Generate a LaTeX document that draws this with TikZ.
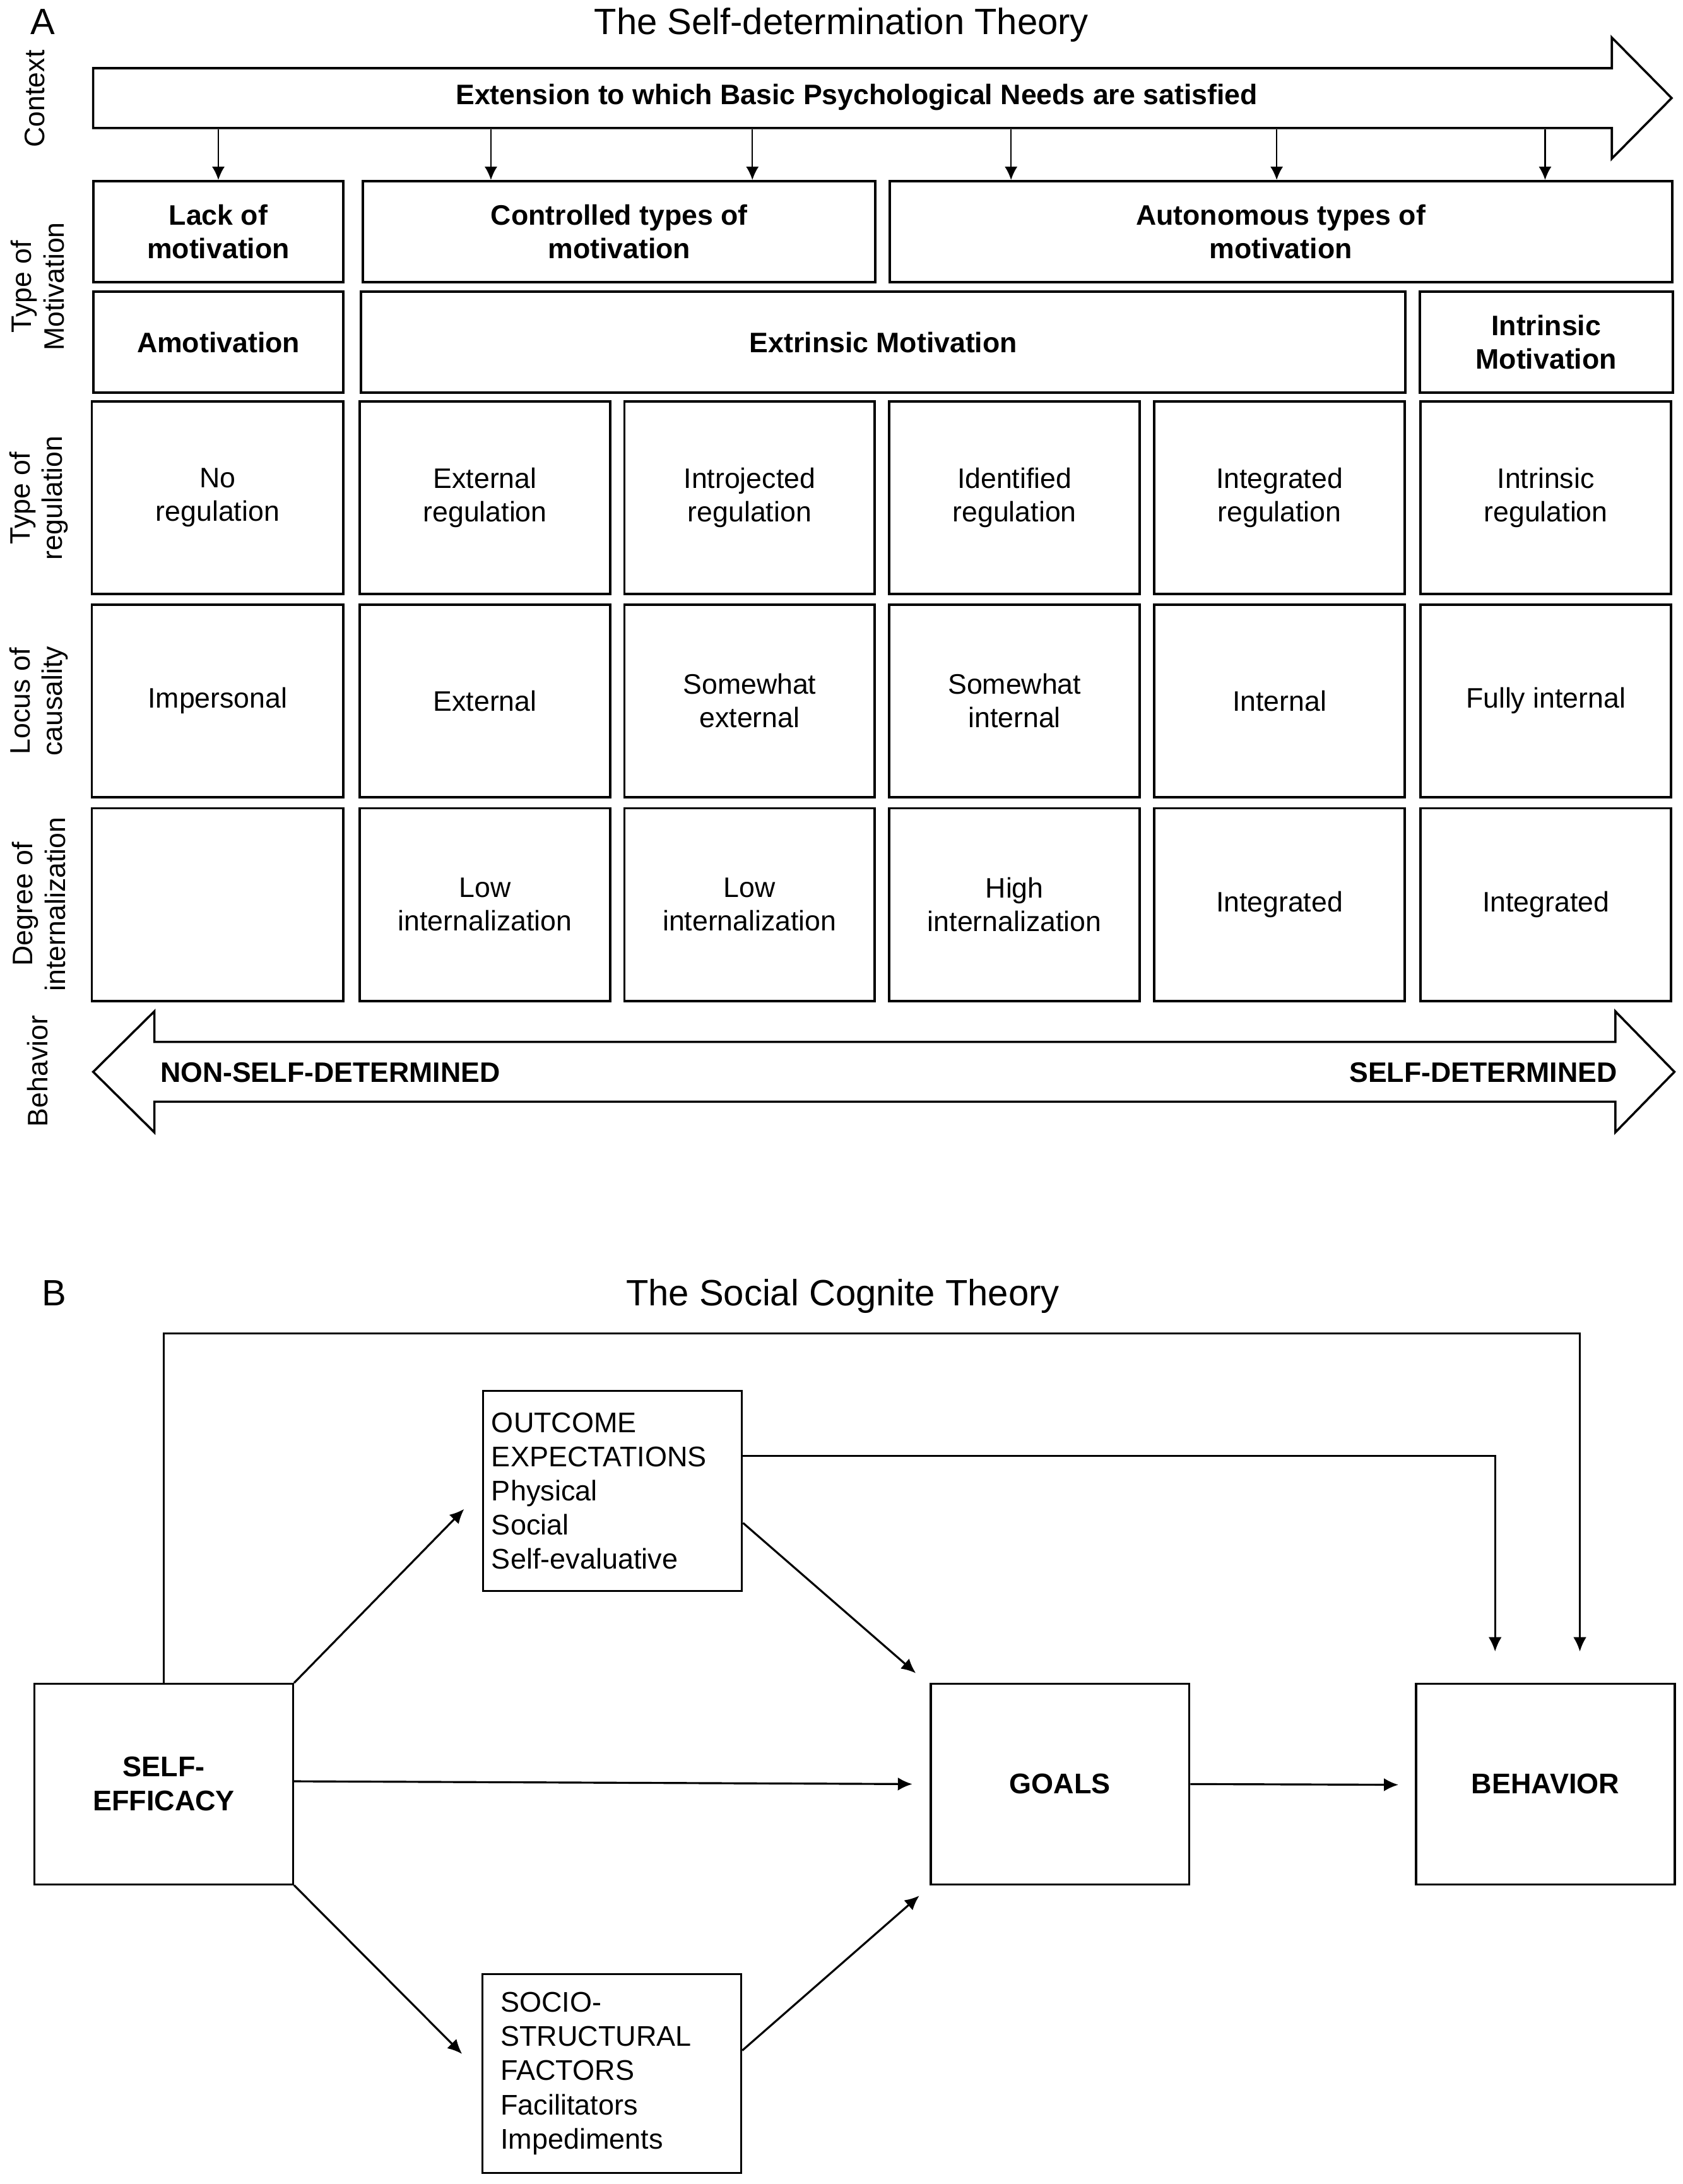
\documentclass[tikz,border=0pt]{standalone}
\usepackage{fontspec}
\setmainfont{Liberation Sans}
\usetikzlibrary{calc,arrows.meta}
\def\px{0.02204cm}
\tikzset{
  cell/.style={draw, line width=1.1pt, minimum width=180*\px, minimum height=138.5*\px, inner sep=0pt, align=center, font=\fontsize{12.7}{15}\selectfont},
  headcell/.style={cell, minimum height=72.5*\px, font=\fontsize{12.7}{15}\selectfont\bfseries},
  rowlabel/.style={rotate=90, align=center, inner sep=0pt, font=\fontsize{12.7}{14.6}\selectfont},
  bigarrow/.style={draw, line width=1pt, line join=miter},
  drop/.style={line width=0.6pt, -{Latex[length=2.1mm,width=2mm]}},
  blk/.style={draw, line width=0.9pt, minimum width=186*\px, minimum height=144*\px, inner sep=0pt, align=center, font=\fontsize{12.8}{15.4}\selectfont\bfseries},
  listblk/.style={blk, align=left, font=\fontsize{12.8}{15.4}\selectfont},
  link/.style={line width=0.9pt, -{Latex[length=2.3mm,width=2.1mm]}},
  heading/.style={anchor=base, inner sep=0pt, font=\fontsize{16.5}{19}\selectfont}
}

\begin{document}
\begin{tikzpicture}[x=0.02204cm, y=-0.02204cm]
		%%%%% START %%%%%
		\useasboundingbox (0, 0) rectangle (1210, 1570);
		
		\node[heading] (labA) at (31, 24.5) {A};
		\node[heading] (titleA) at (605, 24.5) {The Self-determination Theory};
		
		% context arrow
		\draw[bigarrow] (67, 49) -- (1159, 49) -- (1159, 27) -- (1202, 70.5) -- (1159, 114) -- (1159, 92) -- (67, 92) -- cycle;
		\node[font=\fontsize{12.7}{15}\selectfont\bfseries] (ctx) at (616, 70) {Extension to which Basic Psychological Needs are satisfied};
		
		% row labels
		\node[rowlabel] (lcontext) at (25, 71) {Context};
		\node[rowlabel] (ltype) at (27, 206) {Type of\\Motivation};
		\node[rowlabel] (lreg) at (28, 358) {Type of\\regulation};
		\node[rowlabel] (llocus) at (28, 504) {Locus of\\causality};
		\node[rowlabel] (ldegree) at (28, 650) {Degree of\\internalization};
		\node[rowlabel] (lbeh) at (27, 770) {Behavior};
		
		% type of motivation
		\node[headcell, minimum width=180*\px] (lack) at (157, 166.5) {Lack of\\motivation};
		\node[headcell, minimum width=368.5*\px] (ctrl) at (445.3, 166.5) {Controlled types of\\motivation};
		\node[headcell, minimum width=562.5*\px] (auto) at (921, 166.5) {Autonomous types of\\motivation};
		
		\node[headcell, minimum width=180*\px] (amot) at (157, 246) {Amotivation};
		\node[headcell, minimum width=751*\px] (extr) at (635.2, 246) {Extrinsic Motivation};
		\node[headcell, minimum width=182*\px] (intr) at (1111.8, 246) {Intrinsic\\Motivation};
		
		\coordinate (d1) at (157, 93);
		\coordinate (d2) at (353, 93);
		\coordinate (d3) at (541, 93);
		\coordinate (d4) at (727, 93);
		\coordinate (d5) at (918, 93);
		\coordinate (d6) at (1111, 93);
		\draw[drop] (d1) -- (d1 |- lack.north);
		\draw[drop] (d2) -- (d2 |- ctrl.north);
		\draw[drop] (d3) -- (d3 |- ctrl.north);
		\draw[drop] (d4) -- (d4 |- auto.north);
		\draw[drop] (d5) -- (d5 |- auto.north);
		\draw[drop] (d6) -- (d6 |- auto.north);
		
		% type of regulation
		\node[cell, minimum width=181*\px] (reg1) at (156.5, 357.75) {No\\regulation};
		\node[cell] (reg2) at (348.75, 357.75) {External\\regulation};
		\node[cell] (reg3) at (539, 357.75) {Introjected\\regulation};
		\node[cell] (reg4) at (729.5, 357.75) {Identified\\regulation};
		\node[cell] (reg5) at (920, 357.75) {Integrated\\regulation};
		\node[cell] (reg6) at (1111.5, 357.75) {Intrinsic\\regulation};
		
		% locus of causality
		\node[cell, minimum width=181*\px] (loc1) at (156.5, 503.75) {Impersonal};
		\node[cell] (loc2) at (348.75, 503.75) {External};
		\node[cell] (loc3) at (539, 503.75) {Somewhat\\external};
		\node[cell] (loc4) at (729.5, 503.75) {Somewhat\\internal};
		\node[cell] (loc5) at (920, 503.75) {Internal};
		\node[cell] (loc6) at (1111.5, 503.75) {Fully internal};
		
		% degree of internalization
		\node[cell, minimum width=181*\px] (deg1) at (156.5, 650.25) {};
		\node[cell] (deg2) at (348.75, 650.25) {Low\\internalization};
		\node[cell] (deg3) at (539, 650.25) {Low\\internalization};
		\node[cell] (deg4) at (729.5, 650.25) {High\\internalization};
		\node[cell] (deg5) at (920, 650.25) {Integrated};
		\node[cell] (deg6) at (1111.5, 650.25) {Integrated};
		
		% behavior arrow
		\draw[bigarrow] (67, 770.5) -- (111, 727) -- (111, 749) -- (1161.5, 749) -- (1161.5, 727) -- (1204, 770.5) -- (1161.5, 814) -- (1161.5, 792) -- (111, 792) -- (111, 814) -- cycle;
		\node[anchor=west, inner sep=0pt, font=\fontsize{12.7}{15}\selectfont\bfseries] (nonsd) at (115, 771) {NON-SELF-DETERMINED};
		\node[anchor=east, inner sep=0pt, font=\fontsize{12.7}{15}\selectfont\bfseries] (sd) at (1163, 771) {SELF-DETERMINED};
		
		% social cognitive part
		\node[heading] (labB) at (39, 938.6) {B};
		\node[heading] (titleB) at (606, 938.6) {The Social Cognite Theory};
		
		\node[blk] (se) at (117.75, 1282.5) {SELF-\\EFFICACY};
		\node[blk] (goals) at (762.25, 1282.5) {GOALS};
		\node[blk] (beh) at (1111.25, 1282.5) {BEHAVIOR};
		\node[listblk, minimum height=143.5*\px, text width=3.835cm, inner xsep=6*\px] (oe) at (440.5, 1071.75) {OUTCOME\\EXPECTATIONS\\Physical\\Social\\Self-evaluative};
		\node[listblk, minimum height=143*\px, text width=3.526cm, inner xsep=13*\px] (sc) at (440, 1490.5) {SOCIO-\\STRUCTURAL\\FACTORS\\Facilitators\\Impediments};
		
		\coordinate (topr) at (1136, 958.5);
		\draw[link] (se.north) |- (topr) -- ([shift={(0,-22.5)}]topr |- beh.north);
		\draw[link] ([shift={(0,-25.25)}]oe.east) -| ([shift={(57.5,-22.5)}]beh.north west);
		\draw[link] (se.north east) -- ([shift={(-13,13)}]oe.west);
		\draw[link] ([shift={(0,23)}]oe.east) -- ([shift={(-10,-7)}]goals.north west);
		\draw[link] ([shift={(0,-2)}]se.east) -- ([shift={(-12.5,0)}]goals.west);
		\draw[link] (se.south east) -- ([shift={(-14,-14)}]sc.west);
		\draw[link] ([shift={(0,-16.5)}]sc.east) -- ([shift={(-7.5,7.5)}]goals.south west);
		\draw[link] (goals.east) -- ([shift={(-12,0.5)}]beh.west);
		
		%%%%% END %%%%%
	\end{tikzpicture}
\end{document}
